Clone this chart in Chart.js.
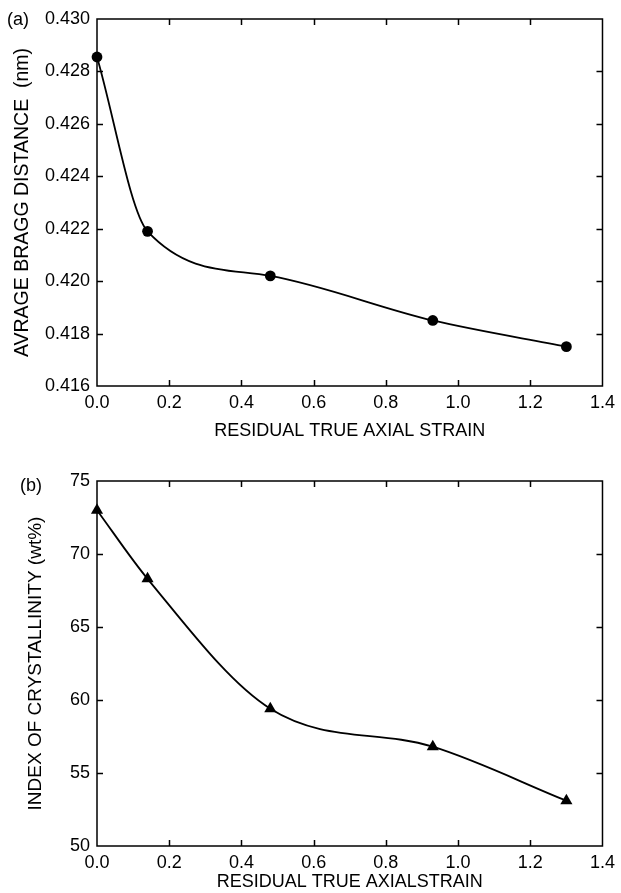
<!DOCTYPE html>
<html>
<head>
<meta charset="utf-8">
<script src="https://cdn.jsdelivr.net/npm/chart.js@4/dist/chart.umd.min.js"></script>
<style>
  html, body { margin: 0; padding: 0; background: #fff; }
  body { width: 621px; height: 893px; position: relative; overflow: hidden; font-family: "Liberation Sans", Arial, sans-serif; }
  canvas { position: absolute; left: 0; }
  .panel { position: absolute; font-size: 18px; color: #000; line-height: 1; }
</style>
</head>
<body>
<canvas id="c1" width="621" height="450" style="top:0"></canvas>
<canvas id="c2" width="621" height="443" style="top:450px"></canvas>
<div class="panel" style="left:7px; top:10px;">(a)</div>
<div class="panel" style="left:20px; top:476px;">(b)</div>
<script>
// ---- data ----
const strainA = [0.0, 0.14, 0.48, 0.93, 1.30];
const braggDistance = [0.42855, 0.4219, 0.4202, 0.4185, 0.4175];
const strainB = [0.0, 0.14, 0.48, 0.93, 1.30];
const crystallinity = [73.0, 68.3, 59.4, 56.8, 53.1];
const xTicks = [0.0, 0.2, 0.4, 0.6, 0.8, 1.0, 1.2, 1.4];
const yTicksA = [0.416, 0.418, 0.420, 0.422, 0.424, 0.426, 0.428, 0.430];
const yTicksB = [50, 55, 60, 65, 70, 75];

const FONT = '"Liberation Sans", Arial, sans-serif';

const frameTicks = {
  id: 'frameTicks',
  beforeDatasetsDraw(chart) {
    const { ctx, chartArea: a, scales: { x, y } } = chart;
    ctx.save();
    ctx.strokeStyle = '#000';
    ctx.lineWidth = 1.5;
    ctx.strokeRect(a.left, a.top, a.right - a.left, a.bottom - a.top);
    const L = 6;
    ctx.beginPath();
    x.ticks.forEach((t, i) => {
      if (i === 0 || i === x.ticks.length - 1) return;
      const px = Math.round(x.getPixelForTick(i)) + 0.5;
      ctx.moveTo(px, a.bottom); ctx.lineTo(px, a.bottom - L);
      ctx.moveTo(px, a.top); ctx.lineTo(px, a.top + L);
    });
    y.ticks.forEach((t, i) => {
      if (i === 0 || i === y.ticks.length - 1) return;
      const py = Math.round(y.getPixelForTick(i)) + 0.5;
      ctx.moveTo(a.left, py); ctx.lineTo(a.left + L, py);
      ctx.moveTo(a.right, py); ctx.lineTo(a.right - L, py);
    });
    ctx.stroke();
    ctx.restore();
  }
};

function makeChart(id, xs, ys, yTicks, dec, yTitle, xTitle, marker, radius, pad, xH, yTitleSize, yTitlePad, xTitlePad) {
  const ctx = document.getElementById(id).getContext('2d');
  return new Chart(ctx, {
    type: 'scatter',
    data: {
      datasets: [{
        data: xs.map((v, i) => ({ x: v, y: ys[i] })),
        showLine: true,
        cubicInterpolationMode: 'monotone',
        borderColor: '#000',
        borderWidth: 1.8,
        backgroundColor: '#000',
        pointStyle: marker,
        pointRadius: radius,
        pointBorderWidth: 0,
        clip: false
      }]
    },
    options: {
      responsive: false,
      animation: false,
      devicePixelRatio: 1,
      layout: { padding: pad },
      plugins: { legend: { display: false }, tooltip: { enabled: false } },
      scales: {
        x: {
          type: 'linear',
          min: xTicks[0], max: xTicks[xTicks.length - 1],
          afterBuildTicks: s => { s.ticks = xTicks.map(v => ({ value: v })); },
          afterFit: s => { s.height = xH; },
          grid: { display: false, drawTicks: false },
          border: { display: false },
          ticks: {
            autoSkip: false, maxRotation: 0, padding: 6, color: '#000',
            font: { family: FONT, size: 18 },
            callback: v => Number(v).toFixed(1)
          },
          title: {
            display: true, text: xTitle, color: '#000',
            font: { family: FONT, size: 18 },
            padding: { top: 0, bottom: xTitlePad }
          }
        },
        y: {
          type: 'linear',
          min: yTicks[0], max: yTicks[yTicks.length - 1],
          afterBuildTicks: s => { s.ticks = yTicks.map(v => ({ value: v })); },
          afterFit: s => { s.width = 97; },
          grid: { display: false, drawTicks: false },
          border: { display: false },
          ticks: {
            autoSkip: false, padding: 7, color: '#000',
            font: { family: FONT, size: 18 },
            callback: v => Number(v).toFixed(dec)
          },
          title: {
            display: true, text: yTitle, color: '#000',
            font: { family: FONT, size: yTitleSize },
            padding: { top: yTitlePad, bottom: 0 }
          }
        }
      }
    },
    plugins: [frameTicks]
  });
}

makeChart('c1', strainA, braggDistance, yTicksA, 3,
  'AVRAGE BRAGG DISTANCE  (nm)', 'RESIDUAL TRUE AXIAL STRAIN',
  'circle', 5.4, { left: 0, right: 14, top: 19, bottom: 4 }, 60, 19.5, 11.3, 4);

makeChart('c2', strainB, crystallinity, yTicksB, 0,
  'INDEX OF CRYSTALLINITY (wt%)', 'RESIDUAL TRUE AXIALSTRAIN',
  'triangle', 7, { left: 0, right: 14, top: 31, bottom: 0 }, 47, 19, 24, 0);
</script>
</body>
</html>
